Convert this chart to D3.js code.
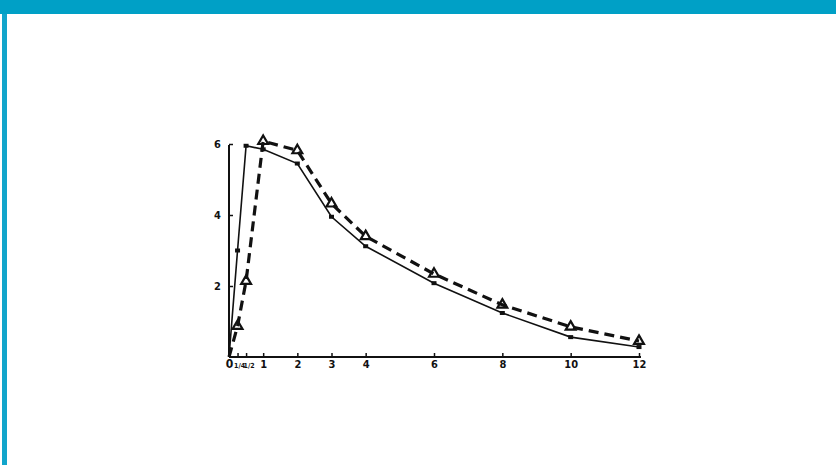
<!DOCTYPE html>
<html>
<head>
<meta charset="utf-8">
<script src="https://cdn.jsdelivr.net/npm/d3@7"></script>
<style>
  html, body { margin: 0; padding: 0; background: #fff; }
  svg { display: block; }
  .tick text { font-family: "Liberation Sans Narrow", "DejaVu Sans Condensed", sans-serif; font-weight: bold; fill: #111; }
</style>
</head>
<body>
<svg id="chart" width="836" height="465"></svg>
<script>
// ---- data ----
const times = [0, 0.25, 0.5, 1, 2, 3, 4, 6, 8, 10, 12];
const solidSeries = [0, 3.0, 5.95, 5.85, 5.45, 3.95, 3.12, 2.08, 1.24, 0.56, 0.28];
const dashedSeries = [0, 0.87, 2.14, 6.08, 5.82, 4.32, 3.4, 2.34, 1.47, 0.85, 0.45];
const xTickValues = [0, 0.25, 0.5, 1, 2, 3, 4, 6, 8, 10, 12];
const xTickLabels = ["0", "1/4", "1/2", "1", "2", "3", "4", "6", "8", "10", "12"];
const yTickValues = [2, 4, 6];
const yTickLabels = ["2", "4", "6"];

const svg = d3.select("#chart");

// frame decorations
svg.append("rect").attr("x", 0).attr("y", 0).attr("width", 836).attr("height", 465).attr("fill", "#fff");
svg.append("rect").attr("x", 0).attr("y", 0).attr("width", 836).attr("height", 14).attr("fill", "#00a0c6");
svg.append("rect").attr("x", 2).attr("y", 14).attr("width", 5).attr("height", 451).attr("fill", "#12a5cb");

const x = d3.scaleLinear().domain([0, 12]).range([229, 639]);
const y = d3.scaleLinear().domain([0, 6]).range([357, 144]);

// x axis
const xAxis = d3.axisBottom(x)
  .tickValues(xTickValues)
  .tickFormat((d, i) => xTickLabels[i])
  .tickSizeInner(-4)
  .tickSizeOuter(0)
  .tickPadding(3);
const gx = svg.append("g").attr("transform", `translate(0,${y(0)})`).call(xAxis);
gx.select(".domain").remove();
gx.append("line").attr("x1", x(0)).attr("x2", x(12) + 2).attr("y1", 0).attr("y2", 0)
  .attr("stroke", "#111").attr("stroke-width", 2);
gx.selectAll(".tick line").attr("stroke", "#111").attr("stroke-width", 1.5);
gx.selectAll(".tick text")
  .attr("font-size", (d) => (d === 0 ? 12 : (d < 1 ? 7 : 11)))
  .attr("dy", (d) => (d === 0 ? "0.68em" : (d < 1 ? "1.15em" : "0.71em")))
  .attr("dx", (d) => (d === 0 ? 0 : (d === 0.25 ? 1.5 : (d === 0.5 ? 2.5 : 0))));

// y axis
const yAxis = d3.axisLeft(y)
  .tickValues(yTickValues)
  .tickFormat((d, i) => yTickLabels[i])
  .tickSizeInner(-4)
  .tickSizeOuter(0)
  .tickPadding(8);
const gy = svg.append("g").attr("transform", `translate(${x(0)},0)`).call(yAxis);
gy.select(".domain").remove();
gy.append("line").attr("x1", 0).attr("x2", 0).attr("y1", y(0)).attr("y2", y(6) + 1)
  .attr("stroke", "#111").attr("stroke-width", 2);
gy.selectAll(".tick line").attr("stroke", "#111").attr("stroke-width", 1.5);
gy.selectAll(".tick text").attr("font-size", 11);

// lines
const line = d3.line().x((d) => x(d[0])).y((d) => y(d[1]));
const solidPts = times.map((t, i) => [t, solidSeries[i]]);
const dashedPts = times.map((t, i) => [t, dashedSeries[i]]);

svg.append("path").datum(solidPts).attr("d", line)
  .attr("fill", "none").attr("stroke", "#111").attr("stroke-width", 1.6);
svg.append("path").datum(dashedPts).attr("d", line)
  .attr("fill", "none").attr("stroke", "#111").attr("stroke-width", 3.2)
  .attr("stroke-dasharray", "10,6");

// markers
svg.selectAll(".sq").data(solidPts.slice(1)).enter().append("rect")
  .attr("x", (d) => x(d[0]) - 2.5).attr("y", (d) => y(d[1]) - 2)
  .attr("width", 5).attr("height", 4).attr("fill", "#111");

svg.selectAll(".tri").data(dashedPts.slice(1)).enter().append("path")
  .attr("d", d3.symbol().type(d3.symbolTriangle).size(42))
  .attr("transform", (d) => `translate(${x(d[0])},${y(d[1])})`)
  .attr("fill", "none").attr("stroke", "#111").attr("stroke-width", 2.2);
</script>
</body>
</html>
